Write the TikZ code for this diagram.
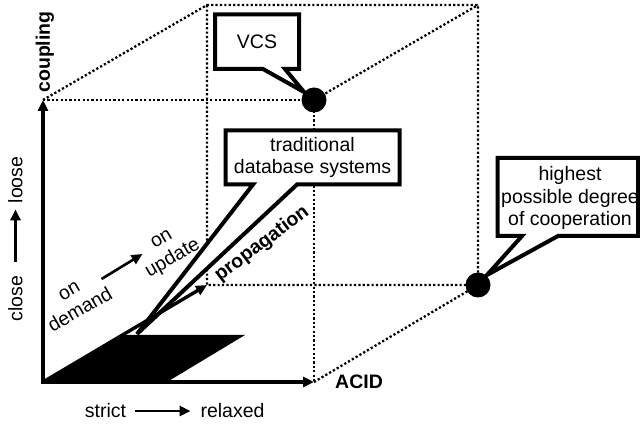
\documentclass[tikz,border=0pt]{standalone}
\usepackage{fontspec}
\setmainfont{Liberation Sans}
\usetikzlibrary{arrows.meta,calc}
\begin{document}
\begin{tikzpicture}[x=1pt,y=-1pt,
  every node/.style={font=\fontsize{19.5}{22.5}\selectfont, inner sep=0pt, outer sep=0pt},
  dots/.style={line width=2.3pt, dash pattern=on 2.2pt off 2.2pt},
  thickarrow/.style={line width=3.4pt, -{Triangle[length=11pt,width=10pt]}},
  smallarrow/.style={line width=2.6pt, -{Triangle[length=11pt,width=10pt]}},
  callout/.style={line width=4pt, fill=white, line join=miter},
  boxgeom/.style={rectangle, draw=none},
  ball/.style={circle, fill=black, minimum size=25pt, inner sep=0pt},
  boldlabel/.style={font=\fontsize{19.5}{22.5}\selectfont\bfseries},
  txt/.style={align=center}]
\useasboundingbox (0,0) rectangle (640,427);
\fill[white] (0,0) rectangle (640,427);

% cube corners
\coordinate (O) at (43,382);
\coordinate (X) at (314,382);
\coordinate (Y) at (43,100);
\coordinate (XY) at (314,100);
\coordinate (B) at (207,285);
\coordinate (BY) at (207,5);
\coordinate (BXY) at (478,5);
\coordinate (BX) at (478,285);

% dotted cube edges
\draw[dots] (Y) -- (XY) -- (X);
\draw[dots] (Y) -- (BY) -- (BXY) -- (BX) -- (B) -- (BY);
\draw[dots] (XY) -- (BXY);
\draw[dots] (X) -- (BX);

% black parallelogram
\fill[black] (O) -- ++(124,0) -- ++(78,-47) -- ++(-124,0) -- cycle;

% axes
\draw[line width=3.4pt, line join=miter,
  {Triangle[length=11pt,width=10pt]}-{Triangle[length=11pt,width=10pt]}] (Y) -- (O) -- (X);

% callout: VCS
\node[boxgeom, minimum width=84pt, minimum height=54.5pt] (vcsbox) at (257,41.75) {};
\coordinate (vcstip) at (304,92);
\draw[callout] (vcsbox.north west) -- (vcsbox.north east) -- (vcsbox.south east)
  -- ($(vcsbox.south west)+(70,0)$) -- (vcstip) -- ($(vcsbox.south west)+(48,0)$)
  -- (vcsbox.south west) -- cycle;
\node[txt] (vcs) at (vcsbox.center) {VCS};

% callout: traditional database systems
\node[boxgeom, minimum width=174pt, minimum height=54pt] (tradbox) at (312.5,157.5) {};
\coordinate (tradtip) at (137,334);
\draw[callout] (tradbox.north west) -- (tradbox.north east) -- (tradbox.south east)
  -- ($(tradbox.south west)+(71.5,0)$) -- (tradtip) -- ($(tradbox.south west)+(27.5,0)$)
  -- (tradbox.south west) -- cycle;
\node[txt] (trad) at (tradbox.center) {traditional\\database systems};

% callout: highest possible degree of cooperation
\node[boxgeom, minimum width=140.5pt, minimum height=78pt] (highbox) at (567.75,197) {};
\coordinate (hightip) at (487,275);
\draw[callout] (highbox.north west) -- (highbox.north east) -- (highbox.south east)
  -- ($(highbox.south west)+(60.5,0)$) -- (hightip) -- ($(highbox.south west)+(24.5,0)$)
  -- (highbox.south west) -- cycle;
\node[txt] (high) at (570,198) {highest\\possible degree\\of cooperation};

% propagation arrow
\draw[thickarrow] (O) -- (B);

% points
\node[ball] (vcsdot) at (XY) {};
\node[ball] (highdot) at (BX) {};

% axis labels
\node[boldlabel, rotate=90] (coupling) at (45,52) {coupling};
\node[boldlabel] (acid) at (359,382) {ACID};
\node[boldlabel, rotate=37] (prop) at (262,244) {propagation};

% strict -> relaxed
\node[anchor=base] (strict) at (105.5,418) {strict};
\node[anchor=base] (relaxed) at (232.5,418) {relaxed};
\draw[smallarrow, shorten <=9pt, shorten >=10pt] (strict.east) -- (strict.east -| relaxed.west);

% close -> loose
\node[rotate=90] (close) at (15.5,298.5) {close};
\node[rotate=90] (loose) at (15.5,180) {loose};
\draw[smallarrow, shorten <=14pt, shorten >=6pt] (close.east) -- (close.east |- loose.west);

% on demand -> on update
\node[txt, rotate=30] (ondemand) at (75,301) {on\\demand};
\node[txt, rotate=30] (onupdate) at (168,250) {on\\update};
\coordinate (odstart) at (101.5,279);
\coordinate (odend) at (142.5,254);
\draw[smallarrow] (odstart) -- (odend);

\end{tikzpicture}
\end{document}
